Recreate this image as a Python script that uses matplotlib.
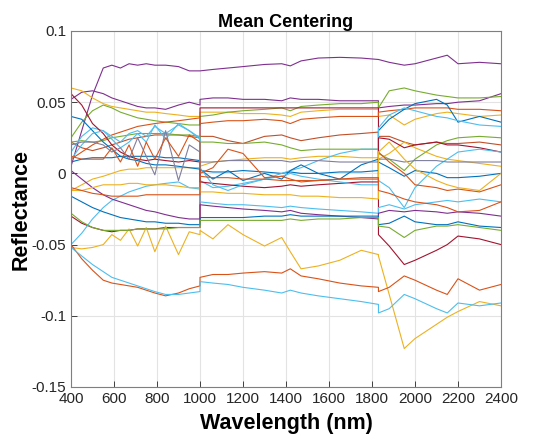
import matplotlib
matplotlib.use('Agg')
import matplotlib.pyplot as plt

# wavelength grid in three detector segments (joins repeated at 1000 and 1830 nm)
wl_vnir = [400, 450, 500, 550, 590, 630, 670, 710, 750, 790, 840, 900, 950, 1000]
wl_swir1 = [1000, 1060, 1130, 1200, 1300, 1380, 1420, 1470, 1550, 1650, 1750, 1830]
wl_swir2 = [1830, 1880, 1950, 2000, 2100, 2150, 2200, 2300, 2400]
wl = wl_vnir + wl_swir1 + wl_swir2

# mean-centred spectra (vnir + swir1 + swir2)
purple_top = ([0.005, 0.030, 0.055, 0.074, 0.076, 0.074, 0.077, 0.076, 0.077, 0.076, 0.076, 0.075, 0.072, 0.072]
              + [0.072, 0.073, 0.074, 0.075, 0.0765, 0.077, 0.0755, 0.079, 0.081, 0.0815, 0.081, 0.080]
              + [0.080, 0.078, 0.076, 0.077, 0.081, 0.083, 0.077, 0.078, 0.077])
purple_2 = ([0.052, 0.057, 0.058, 0.056, 0.053, 0.051, 0.049, 0.047, 0.046, 0.046, 0.045, 0.048, 0.050, 0.048]
            + [0.052, 0.053, 0.053, 0.052, 0.052, 0.051, 0.053, 0.052, 0.052, 0.051, 0.051, 0.051]
            + [0.046, 0.047, 0.048, 0.048, 0.049, 0.049, 0.050, 0.051, 0.056])
yellow_1 = ([0.060, 0.058, 0.053, 0.049, 0.047, 0.046, 0.045, 0.044, 0.043, 0.043, 0.042, 0.041, 0.040, 0.040]
            + [0.043, 0.043, 0.043, 0.042, 0.042, 0.041, 0.040, 0.043, 0.044, 0.045, 0.045, 0.045]
            + [0.040, 0.041, 0.034, 0.038, 0.042, 0.043, 0.042, 0.040, 0.041])
green_1 = ([0.025, 0.036, 0.044, 0.048, 0.046, 0.043, 0.041, 0.039, 0.038, 0.037, 0.036, 0.035, 0.034, 0.034]
           + [0.040, 0.041, 0.043, 0.044, 0.045, 0.046, 0.044, 0.047, 0.048, 0.049, 0.049, 0.050]
           + [0.046, 0.058, 0.060, 0.058, 0.055, 0.054, 0.053, 0.053, 0.054])
red_jump = ([-0.030, -0.035, -0.038, -0.040, -0.041, -0.040, -0.040, -0.039, -0.039, -0.039, -0.038, -0.038, -0.038, -0.038]
            + [0.046, 0.046, 0.046, 0.046, 0.046, 0.046, 0.046, 0.046, 0.046, 0.046, 0.046, 0.046]
            + [-0.043, -0.051, -0.064, -0.061, -0.054, -0.050, -0.044, -0.046, -0.050])
orange_1 = ([0.010, 0.015, 0.020, 0.024, 0.027, 0.029, 0.031, 0.033, 0.034, 0.035, 0.036, 0.037, 0.038, 0.039]
            + [0.035, 0.036, 0.037, 0.037, 0.038, 0.037, 0.035, 0.038, 0.039, 0.040, 0.040, 0.040]
            + [0.043, 0.044, 0.045, 0.046, 0.046, 0.046, 0.045, 0.045, 0.044])
brown_dip = ([0.022, 0.018, 0.016, 0.018, 0.020, 0.022, 0.024, 0.025, 0.026, 0.027, 0.027, 0.027, 0.026, 0.025]
             + [0.026, 0.026, 0.023, 0.021, 0.026, 0.027, 0.025, 0.023, 0.025, 0.027, 0.028, 0.029]
             + [0.026, 0.026, 0.022, 0.020, 0.022, 0.021, 0.021, 0.022, 0.020])
green_2 = ([0.022, 0.023, 0.022, 0.023, 0.025, 0.026, 0.027, 0.028, 0.028, 0.028, 0.028, 0.027, 0.027, 0.026]
           + [0.022, 0.022, 0.021, 0.021, 0.022, 0.020, 0.018, 0.016, 0.017, 0.017, 0.017, 0.017]
           + [0.014, 0.010, 0.002, 0.010, 0.020, 0.023, 0.025, 0.026, 0.025])
yellow_2 = ([-0.012, -0.008, -0.004, -0.002, 0.000, 0.002, 0.003, 0.003, 0.004, 0.004, 0.004, 0.004, 0.004, 0.004]
            + [0.005, 0.008, 0.009, 0.010, 0.011, 0.011, 0.010, 0.011, 0.012, 0.012, 0.011, 0.011]
            + [0.010, 0.014, 0.022, 0.018, 0.012, 0.010, 0.009, 0.007, 0.005])
blue_swir = ([0.008, 0.010, 0.011, 0.011, 0.011, 0.012, 0.012, 0.012, 0.012, 0.012, 0.011, 0.011, 0.010, 0.009]
             + [0.002, 0.001, 0.001, 0.002, 0.001, 0.000, 0.001, 0.000, 0.000, 0.001, 0.001, 0.002]
             + [0.030, 0.038, 0.045, 0.049, 0.052, 0.048, 0.036, 0.040, 0.036])
cyan_rise = ([0.015, 0.026, 0.032, 0.030, 0.026, 0.022, 0.028, 0.030, 0.026, 0.033, 0.028, 0.034, 0.030, 0.024]
             + [-0.005, -0.010, -0.009, -0.007, -0.004, 0.000, 0.002, 0.004, 0.009, 0.014, 0.017, 0.017]
             + [0.032, 0.041, 0.046, 0.044, 0.040, 0.039, 0.037, 0.034, 0.033])
yellow_big = ([-0.052, -0.053, -0.052, -0.050, -0.043, -0.047, -0.039, -0.051, -0.038, -0.055, -0.037, -0.057, -0.041, -0.043]
              + [-0.040, -0.046, -0.036, -0.043, -0.051, -0.045, -0.055, -0.067, -0.065, -0.061, -0.054, -0.057]
              + [-0.058, -0.085, -0.123, -0.116, -0.106, -0.101, -0.097, -0.090, -0.093])
orange_bottom = ([-0.050, -0.060, -0.068, -0.075, -0.077, -0.078, -0.079, -0.080, -0.082, -0.084, -0.086, -0.084, -0.081, -0.079]
                 + [-0.073, -0.071, -0.071, -0.070, -0.069, -0.070, -0.067, -0.072, -0.074, -0.077, -0.079, -0.080]
                 + [-0.083, -0.080, -0.072, -0.075, -0.082, -0.085, -0.074, -0.082, -0.078])
cyan_bottom = ([-0.052, -0.058, -0.064, -0.069, -0.073, -0.075, -0.077, -0.079, -0.081, -0.083, -0.085, -0.085, -0.084, -0.083]
               + [-0.076, -0.077, -0.078, -0.080, -0.082, -0.084, -0.082, -0.084, -0.086, -0.088, -0.090, -0.092]
               + [-0.098, -0.095, -0.085, -0.088, -0.095, -0.098, -0.091, -0.093, -0.091])
cyan_low = ([-0.050, -0.042, -0.032, -0.024, -0.019, -0.016, -0.013, -0.011, -0.009, -0.008, -0.007, -0.006, -0.010, -0.011]
            + [-0.020, -0.021, -0.022, -0.022, -0.023, -0.024, -0.023, -0.024, -0.025, -0.026, -0.027, -0.028]
            + [-0.024, -0.022, -0.025, -0.022, -0.020, -0.019, -0.020, -0.018, -0.020])
purple_down = ([0.002, -0.004, -0.010, -0.015, -0.018, -0.020, -0.022, -0.024, -0.026, -0.027, -0.029, -0.031, -0.032, -0.032]
               + [-0.022, -0.023, -0.024, -0.025, -0.026, -0.027, -0.026, -0.028, -0.029, -0.030, -0.031, -0.032]
               + [-0.028, -0.026, -0.027, -0.026, -0.027, -0.028, -0.027, -0.028, -0.030])
blue_down = ([-0.016, -0.020, -0.024, -0.027, -0.029, -0.031, -0.032, -0.033, -0.034, -0.034, -0.035, -0.035, -0.036, -0.036]
             + [-0.031, -0.031, -0.031, -0.031, -0.030, -0.030, -0.029, -0.030, -0.030, -0.030, -0.030, -0.030]
             + [-0.036, -0.035, -0.030, -0.034, -0.036, -0.036, -0.034, -0.037, -0.038])
green_low = ([-0.028, -0.034, -0.038, -0.040, -0.040, -0.040, -0.040, -0.039, -0.039, -0.039, -0.039, -0.038, -0.038, -0.038]
             + [-0.033, -0.033, -0.033, -0.033, -0.033, -0.033, -0.032, -0.033, -0.032, -0.032, -0.031, -0.031]
             + [-0.037, -0.038, -0.045, -0.040, -0.037, -0.037, -0.036, -0.038, -0.040])
blue_desc = ([0.040, 0.038, 0.030, 0.022, 0.017, 0.012, 0.010, 0.009, 0.007, 0.006, 0.006, 0.005, 0.004, 0.003]
             + [0.003, -0.004, 0.002, -0.005, 0.000, -0.004, 0.002, 0.006, 0.000, -0.004, 0.006, 0.010]
             + [0.008, 0.004, -0.002, 0.002, 0.000, -0.003, -0.003, -0.002, 0.000])
red_desc = ([0.056, 0.048, 0.035, 0.028, 0.020, 0.015, 0.012, 0.010, 0.009, 0.010, 0.009, 0.008, 0.009, 0.008]
            + [-0.006, -0.007, -0.008, -0.009, -0.010, -0.009, -0.008, -0.009, -0.008, -0.007, -0.006, -0.006]
            + [0.025, 0.024, 0.018, 0.020, 0.022, 0.020, 0.020, 0.018, 0.015])
cyan_wavy = ([0.010, 0.020, 0.028, 0.030, 0.024, 0.018, 0.022, 0.028, 0.022, 0.034, 0.024, 0.035, 0.030, 0.025]
             + [0.004, -0.008, -0.012, -0.008, -0.004, -0.002, 0.000, -0.002, -0.004, -0.006, -0.008, -0.008]
             + [-0.005, -0.010, -0.024, -0.010, 0.005, 0.010, 0.015, 0.017, 0.015])
gray_wavy = ([0.020, 0.022, 0.022, 0.020, 0.015, 0.018, 0.010, 0.025, 0.012, -0.001, 0.030, -0.005, 0.020, 0.015]
             + [0.008, 0.008, 0.009, 0.009, 0.009, 0.009, 0.008, 0.009, 0.009, 0.008, 0.008, 0.008]
             + [0.010, 0.010, 0.008, 0.009, 0.009, 0.008, 0.008, 0.008, 0.008])
orange_wavy = ([0.012, 0.010, 0.010, 0.010, 0.018, 0.008, 0.020, 0.005, 0.022, 0.010, 0.025, 0.012, 0.027, 0.022]
               + [0.000, 0.004, 0.017, 0.014, -0.003, -0.002, -0.004, -0.006, -0.005, -0.004, -0.004, -0.004]
               + [0.015, 0.008, 0.000, -0.008, -0.010, -0.012, -0.011, -0.013, -0.008])
yellow_3 = ([-0.012, -0.012, -0.010, -0.008, -0.008, -0.008, -0.007, -0.007, -0.008, -0.008, -0.008, -0.009, -0.010, -0.010]
            + [-0.013, -0.013, -0.014, -0.014, -0.015, -0.015, -0.015, -0.016, -0.016, -0.017, -0.017, -0.018]
            + [0.015, 0.022, 0.010, 0.003, -0.005, -0.008, -0.010, -0.012, 0.000])
orange_low = ([-0.010, -0.012, -0.014, -0.015, -0.016, -0.016, -0.016, -0.016, -0.015, -0.015, -0.015, -0.015, -0.015, -0.015]
              + [-0.002, -0.003, -0.003, -0.004, -0.004, -0.005, -0.005, -0.005, -0.005, -0.004, -0.003, -0.003]
              + [-0.012, -0.014, -0.018, -0.020, -0.022, -0.024, -0.027, -0.026, -0.020])

series = [purple_top, purple_2, yellow_1, green_1, red_jump, orange_1, brown_dip,
          green_2, yellow_2, blue_swir, cyan_rise, yellow_big, orange_bottom,
          cyan_bottom, cyan_low, purple_down, blue_down, green_low, blue_desc,
          red_desc, cyan_wavy, gray_wavy, orange_wavy, yellow_3, orange_low]
colors = ['#7E2F8E', '#7E2F8E', '#EDB120', '#77AC30', '#A2142F', '#D95319', '#C0502A',
          '#77AC30', '#EDB120', '#0072BD', '#4DBEEE', '#EDB120', '#D95319',
          '#4DBEEE', '#4DBEEE', '#7E2F8E', '#0072BD', '#77AC30', '#0072BD',
          '#A2142F', '#4DBEEE', '#7F7F9F', '#D95319', '#EDB120', '#D95319']

plt.rcParams['font.family'] = ['Liberation Sans', 'DejaVu Sans']

fig = plt.figure(figsize=(5.47, 4.41), dpi=100)
ax = fig.add_axes([71 / 547, 1 - 387 / 441, 430 / 547, 356 / 441])

for s, c in zip(series, colors):
    ax.plot(wl, s, color=c, lw=0.8)

ax.set_xlim(400, 2400)
ax.set_ylim(-0.15, 0.1)
ax.set_xticks(range(400, 2401, 200))
ax.set_yticks([-0.15, -0.1, -0.05, 0, 0.05, 0.1])
ax.set_yticklabels(['-0.15', '-0.1', '-0.05', '0', '0.05', '0.1'])
ax.tick_params(direction='in', labelsize=11, colors='#262626', length=4, width=0.6)
ax.grid(color='#e3e3e3', lw=0.8)
ax.set_axisbelow(True)
for sp in ax.spines.values():
    sp.set_color('#7f7f7f')
    sp.set_linewidth(0.8)

ax.set_title('Mean Centering', fontsize=13, fontweight='bold', pad=3)
ax.set_xlabel('Wavelength (nm)', fontsize=15.5, fontweight='bold', labelpad=5)
ax.set_ylabel('Reflectance', fontsize=15.5, fontweight='bold', labelpad=0)

plt.savefig('out.png', dpi=100)
